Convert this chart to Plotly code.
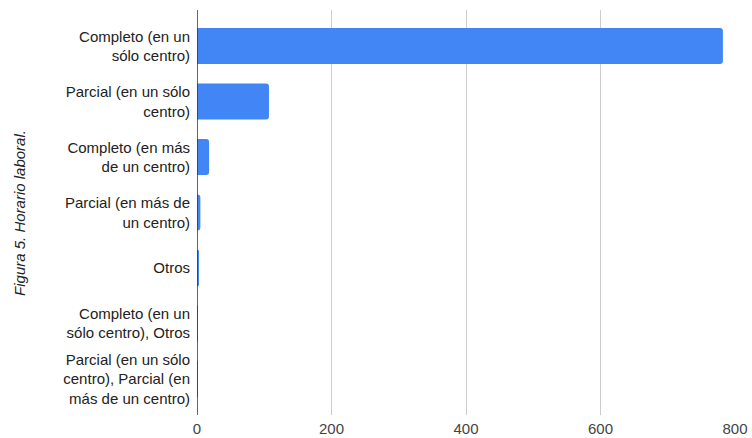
import plotly.graph_objects as go

categories = [
    "Completo (en un<br>sólo centro)",
    "Parcial (en un sólo<br>centro)",
    "Completo (en más<br>de un centro)",
    "Parcial (en más de<br>un centro)",
    "Otros",
    "Completo (en un<br>sólo centro), Otros",
    "Parcial (en un sólo<br>centro), Parcial (en<br>más de un centro)",
]
values = [782, 107, 18, 5, 2, 1, 1]
x_ticks = [0, 200, 400, 600, 800]

fig = go.Figure(go.Bar(
    x=values, y=categories, orientation="h",
    marker=dict(color="#4285f4", line=dict(width=0), cornerradius=3),
    width=0.65,
))
fig.update_layout(
    width=752, height=438,
    margin=dict(l=197, r=17, t=10, b=23),
    paper_bgcolor="white", plot_bgcolor="white",
    font=dict(family="Liberation Sans, Arial, sans-serif", size=15, color="#222"),
    showlegend=False,
)
fig.update_xaxes(
    range=[0, 800], tickvals=x_ticks, showgrid=True, gridcolor="#cccccc", gridwidth=1,
    zeroline=False, showline=False, ticks="", tickfont=dict(size=15, color="#444"),
    ticklabelstandoff=3, automargin=False,
)
fig.update_yaxes(
    categoryorder="array", categoryarray=categories, autorange=False, range=[6.65, -0.65],
    showgrid=False, zeroline=False, showline=False, ticks="",
    ticklabelstandoff=6,
    tickfont=dict(size=15, color="#222"), automargin=False,
)
fig.add_shape(type="line", xref="x", yref="paper", x0=0, x1=0, y0=0, y1=1,
              line=dict(color="#333333", width=1.5))
fig.add_annotation(
    text="<i>Figura 5. Horario laboral.</i>", xref="paper", yref="paper",
    x=-0.33, y=0.5, xanchor="center", yanchor="middle", textangle=-90,
    showarrow=False, font=dict(size=15, color="#222"),
)
fig.write_html("out.html", config={"displayModeBar": False},
               post_script="document.body.style.margin='0';")
